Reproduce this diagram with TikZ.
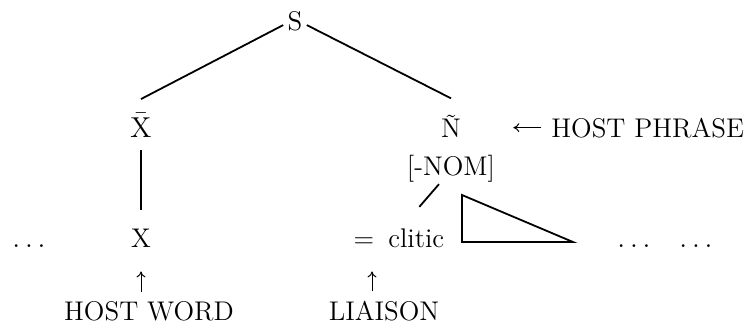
\documentclass[tikz,border=0pt]{standalone}
\usepackage{tikz}
\usetikzlibrary{arrows.meta,positioning}

\begin{document}
\begin{tikzpicture}[x=0.5pt,y=-0.5pt,
    font=\fontsize{13.5}{16}\selectfont,
    every node/.style={inner sep=2pt},
    branch/.style={line width=0.9pt},
    pointer/.style={-{To[length=3pt,width=4.5pt]},line width=0.5pt}]
  \useasboundingbox (0,0) rectangle (744,332);
  \def\yphr{137}   % baseline of the phrase level
  \def\yword{247}  % baseline of the word level
  \def\ylab{320}   % baseline of the bottom labels

  % tree nodes
  \node[anchor=base] (S) at (295,30) {S};
  \node[anchor=base] (Xbar) at (141,\yphr) {$\bar{\mathrm{X}}$};
  \node[anchor=base] (Nbar) at (451,\yphr) {\~N};
  \node[anchor=base] (nom) at (451,175) {[-NOM]};
  \node[anchor=base west] (hp) at (547,\yphr) {HOST PHRASE};

  % word level
  \node[anchor=base] (dotsL) at (29,\yword) {$\ldots$};
  \node[anchor=base] (X) at (141,\yword) {X};
  \node[anchor=base] (eq) at (364,\yword) {=};
  \node[anchor=base west] (clitic) at (384,\yword) {clitic};
  \node[anchor=base] (dotsA) at (634,\yword) {$\ldots$};
  \node[anchor=base] (dotsB) at (696,\yword) {$\ldots$};

  % labels
  \node[anchor=base] (hw) at (149,\ylab) {HOST WORD};
  \node[anchor=base] (lia) at (384,\ylab) {LIAISON};

  % branches
  \draw[branch] (S.200) -- ([yshift=5pt]Xbar.north);
  \draw[branch] (S.-20) -- ([yshift=6pt]Nbar.north);
  \draw[branch] ([yshift=-4.5pt]Xbar.south) -- ([yshift=7pt]Xbar.south |- X.north);
  \draw[branch] ([xshift=-6pt,yshift=1pt]nom.south) -- ([xshift=1.5pt,yshift=8.5pt]clitic.north);
  \draw[branch] (462,195) -- (462,242) -- (573,242) -- cycle;

  % arrows
  \draw[pointer,shorten <=3pt,shorten >=24pt] (hp.west) -- (hp.west -| Nbar.east);
  \draw[pointer,shorten <=2.5pt,shorten >=10pt] (X.south |- hw.north) -- (X.south);
  \draw[pointer,shorten <=2.5pt,shorten >=10pt] ([xshift=4pt]eq.south |- lia.north) -- ([xshift=4pt]eq.south);
\end{tikzpicture}
\end{document}
